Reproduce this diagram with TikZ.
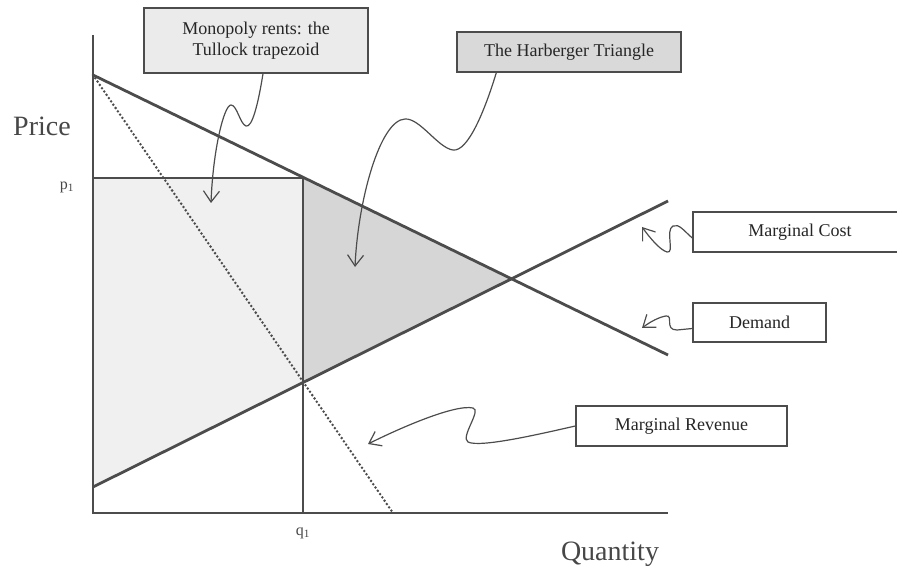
\documentclass[tikz,border=0pt]{standalone}
\usepackage{fontspec}
\setmainfont{Liberation Serif}
\usepackage{tikz}
\usetikzlibrary{arrows.meta}
\definecolor{inkgray}{gray}{0.3}
\definecolor{rentgray}{gray}{0.94}
\definecolor{dwlgray}{gray}{0.84}
\tikzset{
  curve/.style={inkgray, line width=2.8pt},
  axis/.style={inkgray, line width=1.9pt},
  labelbox/.style={draw=inkgray, line width=1.4pt, rectangle, inner sep=0pt,
    text=black!85, font=\fontsize{18}{21}\selectfont, align=center},
  pointer/.style={inkgray, line width=1.2pt, -{Straight Barb[length=11pt,width=16pt]}}
}

\begin{document}
\begin{tikzpicture}[x=1pt, y=-1pt]
\path[use as bounding box, clip] (0,0) rectangle (897,572);

% axes and curves
\coordinate (O) at (93,513);
\coordinate (Ytop) at (93,35);
\coordinate (Xend) at (668,513);
\coordinate (Dtop) at (93,75);
\coordinate (Dend) at (668,355);
\coordinate (MCbot) at (93,487);
\coordinate (MCend) at (668,201);
\coordinate (MRend) at (393,513);
\coordinate (p1) at (93,178);
\coordinate (Pq) at (303,178);
\coordinate (q1) at (303,513);
\coordinate (Eq) at (intersection of Dtop--Dend and MCbot--MCend);
\coordinate (Qmc) at (intersection of MCbot--MCend and Pq--q1);

\fill[rentgray] (p1) -- (Pq) -- (Qmc) -- (MCbot) -- cycle;
\fill[dwlgray] (Pq) -- (Eq) -- (Qmc) -- cycle;

\draw[axis] (Ytop) -- (O) -- (Xend);
\draw[curve] (Dtop) -- (Dend);
\draw[curve] (MCbot) -- (MCend);
\draw[curve] (p1) -- (Pq) -- (q1);
\draw[inkgray, line width=2.8pt, line cap=round, dash pattern=on 0pt off 4pt] (Dtop) -- (MRend);

% axis labels
\node[font=\fontsize{28}{30}\selectfont, text=black!72, anchor=base] (price) at (42,136) {Price};
\node[font=\fontsize{28}{30}\selectfont, text=black!72, anchor=base] (quantity) at (610,560) {Quantity};
\node[font=\fontsize{16}{18}\selectfont, text=black!72] (plabel) at (67,187) {p\textsubscript{1}};
\node[font=\fontsize{16}{18}\selectfont, text=black!72] (qlabel) at (303,533) {q\textsubscript{1}};

% label boxes
\node[labelbox, fill=black!8, minimum width=224pt, minimum height=65pt] (tullock) at (256,40.5) {Monopoly rents: the\\Tullock trapezoid};
\node[labelbox, fill=black!15, minimum width=224pt, minimum height=40pt] (harberger) at (569,52) {The Harberger Triangle};
\node[labelbox, minimum width=214pt, minimum height=40pt] (mcbox) at (800,232) {Marginal Cost};
\node[labelbox, minimum width=133pt, minimum height=39pt] (dbox) at (759.5,322.5) {Demand};
\node[labelbox, minimum width=211pt, minimum height=40pt] (mrbox) at (681.5,426) {Marginal Revenue};

% wiggly pointers
\coordinate (tullockTip) at (211,203);
\coordinate (harbergerTip) at (355,267);
\coordinate (mcTip) at (642,227);
\coordinate (dTip) at (642,328);
\coordinate (mrTip) at (368,444);

\draw[pointer] ([xshift=7pt]tullock.south) .. controls (258,105) and (252,128) .. (246,126)
  .. controls (240,124) and (237,105) .. (231,105) .. controls (224,105) and (213,150) .. (tullockTip);
\draw[pointer] ([xshift=40pt]harberger.south west) .. controls (485,110) and (468,152) .. (453,150)
  .. controls (438,148) and (420,118) .. (405,119) .. controls (380,120) and (358,200) .. (harbergerTip);
\draw[pointer] ([yshift=-6pt]mcbox.west) .. controls (685,232) and (679,223) .. (673,226)
  .. controls (665,230) and (675,254) .. (667,252) .. controls (660,250) and (650,238) .. (mcTip);
\draw[pointer] ([yshift=-6pt]dbox.west) -- (677,330) .. controls (664,330) and (674,315) .. (666,316)
  .. controls (659,317) and (650,322) .. (dTip);
\draw[pointer] (mrbox.west) .. controls (540,434) and (480,448) .. (468,442)
  .. controls (460,437) and (482,410) .. (473,408) .. controls (455,404) and (400,428) .. (mrTip);

\end{tikzpicture}
\end{document}
